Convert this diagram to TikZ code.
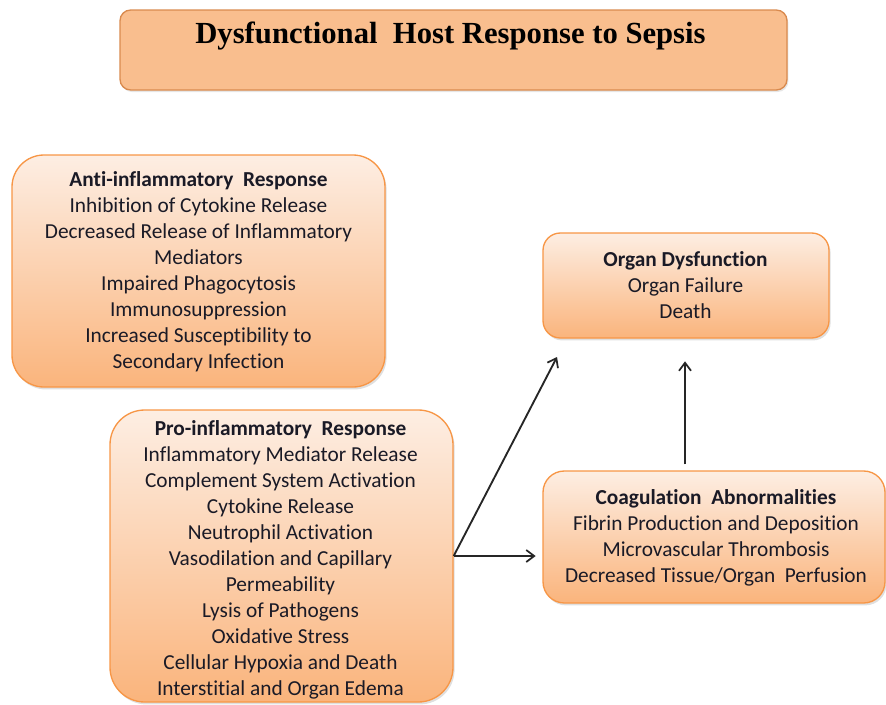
\documentclass[tikz,border=0pt]{standalone}
\usepackage{fontspec}
\setmainfont{Carlito}[Ligatures=NoCommon]
\newfontfamily\titlefont{Liberation Serif}
\usetikzlibrary{shadows,arrows.meta}
\definecolor{boxborder}{HTML}{F79646}
\definecolor{boxtop}{HTML}{FDEEE3}
\definecolor{boxbot}{HTML}{FAB47C}
\definecolor{titlefill}{HTML}{F9BE8E}
\definecolor{titleborder}{HTML}{D98A4E}
\definecolor{txt}{HTML}{1A1A26}
\tikzset{
  box/.style={draw=boxborder, line width=1pt, top color=boxtop, bottom color=boxbot,
    drop shadow={opacity=0.25, shadow xshift=1.2pt, shadow yshift=-1.8pt},
    inner sep=0pt, rectangle},
  titlebox/.style={draw=titleborder, line width=1pt, fill=titlefill, rounded corners=8pt,
    drop shadow={opacity=0.2, shadow xshift=1pt, shadow yshift=-1.5pt},
    inner sep=0pt, rectangle},
  boxtext/.style={align=center, text=txt, font=\fontsize{16}{19.5}\selectfont,
    anchor=north, inner sep=0pt},
  arr/.style={-{Straight Barb[length=6pt,width=9pt,line width=1.3pt]}, line width=1.4pt, draw=black!85}
}
\newcommand{\firststrut}{\rule{0pt}{12pt}}
\begin{document}
\begin{tikzpicture}[x=0.75pt,y=-0.75pt]
\useasboundingbox (0,0) rectangle (886,704);
% boxes
\node[titlebox, minimum width=500.25pt, minimum height=60pt] (title) at (453.5,50) {};
\node[box, rounded corners=24pt, minimum width=279.75pt, minimum height=174pt] (anti) at (198.5,271) {};
\node[box, rounded corners=26pt, minimum width=257.25pt, minimum height=219pt] (pro) at (281.5,556) {};
\node[box, rounded corners=13pt, minimum width=214.5pt, minimum height=78.75pt] (organ) at (686,285.5) {};
\node[box, rounded corners=16pt, minimum width=256.5pt, minimum height=99pt] (coag) at (714,537) {};
% texts
\node[anchor=base, inner sep=0pt, font=\titlefont\bfseries\fontsize{23}{27}\selectfont] (titletext) at (450.5,43) {Dysfunctional\ \ Host Response to Sepsis};
\node[boxtext] (antitext) at (198.5,170.5) {\firststrut\textbf{Anti-inflammatory\ \ Response}\\
Inhibition of Cytokine Release\\
Decreased Release of Inflammatory\\
Mediators\\
Impaired Phagocytosis\\
Immunosuppression\\
Increased Susceptibility to\\
Secondary Infection};
\node[boxtext] (protext) at (280.5,419.5) {\firststrut\textbf{Pro-inflammatory\ \ Response}\\
Inflammatory Mediator Release\\
Complement System Activation\\
Cytokine Release\\
Neutrophil Activation\\
Vasodilation and Capillary\\
Permeability\\
Lysis of Pathogens\\
Oxidative Stress\\
Cellular Hypoxia and Death\\
Interstitial and Organ Edema};
\node[boxtext] (organtext) at (685.5,250.5) {\firststrut\textbf{Organ Dysfunction}\\
Organ Failure\\
Death};
\node[boxtext] (coagtext) at (716,488.5) {\firststrut\textbf{Coagulation\ \ Abnormalities}\\
Fibrin Production and Deposition\\
Microvascular Thrombosis\\
Decreased Tissue/Organ\ \ Perfusion};
% connectors
\coordinate (split) at (pro.east);
\coordinate (diagend) at (557,357);
\draw[arr] (split) -- (diagend);
\draw[arr, shorten >=5pt] (split) -- (coag.west |- split);
\draw[arr, shorten <=5pt, shorten >=17pt] (685,471) coordinate (vstart) -- (organ.south -| vstart);
\end{tikzpicture}
\end{document}
